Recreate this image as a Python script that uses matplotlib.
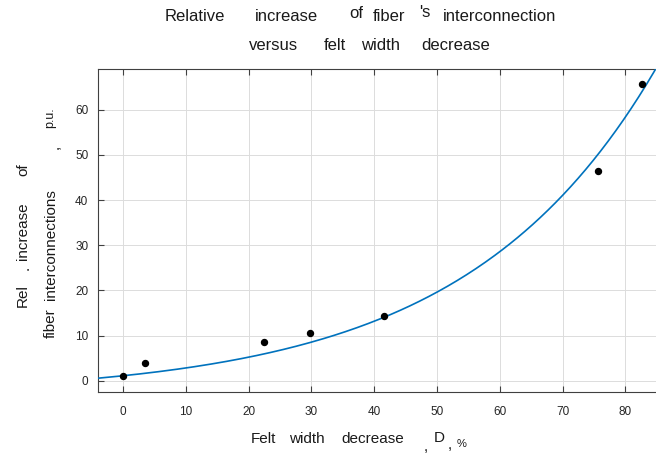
import numpy as np
import matplotlib
matplotlib.use("Agg")
import matplotlib.pyplot as plt

# measured points
width_decrease = [0.0, 3.5, 22.4, 29.7, 41.5, 75.6, 82.7]
rel_increase = [1.0, 4.0, 8.6, 10.6, 14.3, 46.4, 65.6]

# fitted trend y = a*exp(b*x) + c, coefficients
fit_a, fit_b, fit_c = 4.4, 0.033, -3.3

x_ticks = [0, 10, 20, 30, 40, 50, 60, 70, 80]
y_ticks = [0, 10, 20, 30, 40, 50, 60]

W, H = 656, 454
plt.rcParams['font.family'] = ['Liberation Sans', 'DejaVu Sans']

fig = plt.figure(figsize=(W / 100, H / 100), dpi=100)
ax = fig.add_axes([98 / W, 1 - 392 / H, (658 - 98) / W, (392 - 69) / H])

xs = np.linspace(-4, 86, 300)
ax.plot(xs, fit_a * np.exp(fit_b * xs) + fit_c, color='#0072BD', lw=1.2, zorder=3)
ax.plot(width_decrease, rel_increase, 'o', color='black', ms=4.3, zorder=4)

ax.set_xlim(-4, 85.2)
ax.set_ylim(-2.5, 69)
ax.set_xticks(x_ticks)
ax.set_yticks(y_ticks)
ax.grid(True, color='#dcdcdc', lw=0.7)
ax.set_axisbelow(True)
ax.tick_params(direction='in', length=4, width=0.8, color='#404040',
               labelsize=8.5, labelcolor='#262626', top=True, right=False)
ax.tick_params(axis='x', pad=10)
ax.tick_params(axis='y', pad=7)
for side in ['left', 'bottom', 'top']:
    ax.spines[side].set_color('#404040')
    ax.spines[side].set_linewidth(0.8)
ax.spines['right'].set_visible(False)


def word(x, y, s, size=11, rot=0):
    fig.text(x / W, 1 - y / H, s, fontsize=size, color='#1a1a1a', ha='left',
             va='baseline', rotation=rot, rotation_mode='anchor')


# title, word by word as in the original export
word(165, 21, 'Relative', 12)
word(255, 21, 'increase', 12)
word(349, 18, 'of', 12)
word(373, 21, 'fiber', 12)
word(419, 17, "'s", 12)
word(443, 21, 'interconnection', 12)
word(249, 50, 'versus', 12)
word(324, 50, 'felt', 12)
word(361, 50, 'width', 12)
word(421, 50, 'decrease', 12)

# x label
word(251, 443, 'Felt')
word(289, 443, 'width')
word(341, 443, 'decrease')
word(424, 451, ',')
word(434, 442, 'D')
word(448, 449, ',')
word(457, 447, '%', 8)

# y label (two rotated lines)
word(27, 307, 'Rel', rot=90)
word(29, 270, '.', rot=90)
word(27, 260, 'increase', rot=90)
word(27, 176, 'of', rot=90)
word(55, 338, 'fiber', rot=90)
word(55, 300, 'interconnections', rot=90)
word(59, 149, ',', rot=90)
word(53, 128, 'p.u.', 9, rot=90)

fig.savefig('out.png', dpi=100)
